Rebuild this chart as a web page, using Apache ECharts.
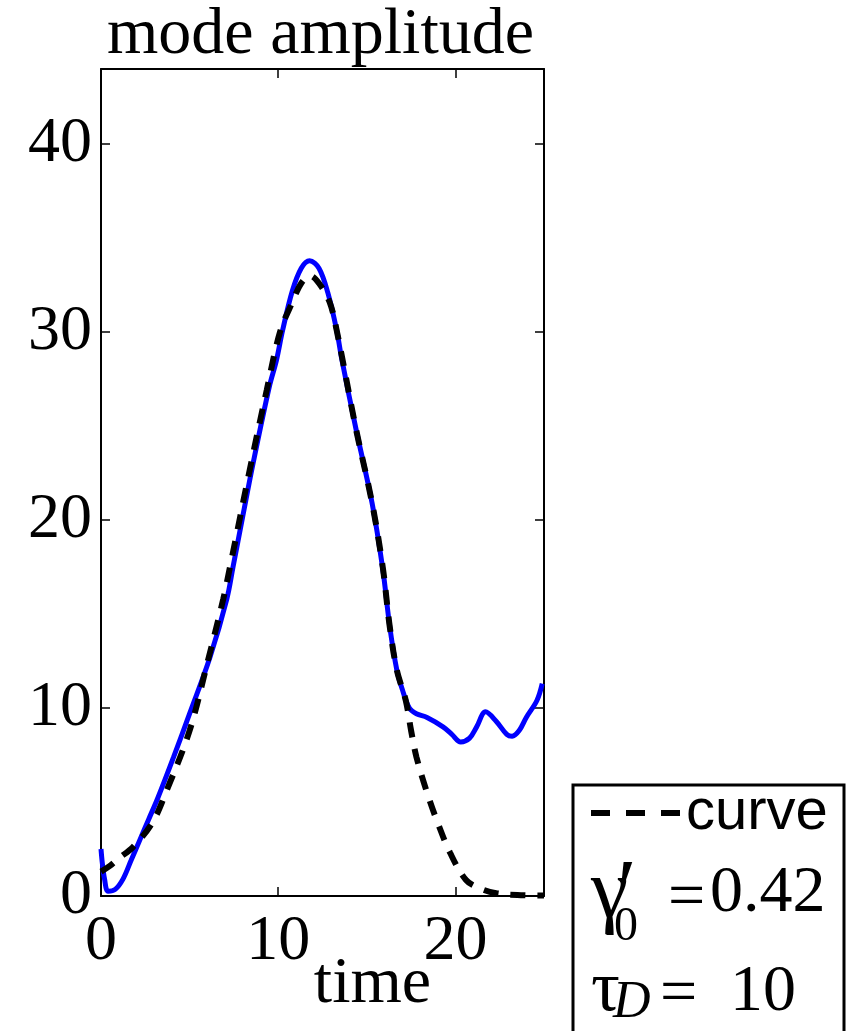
<!DOCTYPE html>
<html>
<head>
<meta charset="utf-8">
<script src="https://cdn.jsdelivr.net/npm/echarts@6/dist/echarts.min.js"></script>
<style>
  html, body { margin: 0; padding: 0; background: #fff; }
  #chart { width: 850px; height: 1031px; }
</style>
</head>
<body>
<div id="chart"></div>
<script>
// Axis ticks
const xTicks = [0, 10, 20];
const yTicks = [0, 10, 20, 30, 40];

// Simulated mode amplitude (solid blue)
const simTime = [0, 0.08, 0.2, 0.4, 0.8, 1.24, 1.7, 2.2, 2.7, 3.2, 4.1, 5, 6.15, 7.1, 7.45, 8.0, 8.6, 9.5, 9.9, 10.25, 10.8, 11.3, 11.77, 12.3, 12.8, 13.3, 13.6, 14.4, 15.3, 15.9, 16.3, 16.7, 17.0, 17.4, 17.8, 18.4, 19.3, 19.8, 20.3, 20.8, 21.2, 21.7, 22.3, 22.9, 23.2, 23.6, 24.0, 24.6, 24.9];
const simAmp  = [2.5, 1.7, 0.9, 0.25, 0.35, 0.9, 1.9, 3.0, 4.1, 5.2, 7.4, 9.7, 12.7, 15.8, 17.5, 20.2, 23.1, 27.1, 28.5, 30.1, 32.2, 33.4, 33.8, 33.4, 32.1, 30.1, 28.5, 24.8, 20.9, 17.4, 14.3, 12.0, 11.0, 10.0, 9.7, 9.5, 9.0, 8.6, 8.2, 8.4, 9.0, 9.8, 9.3, 8.6, 8.5, 8.8, 9.5, 10.4, 11.3];

// Reference curve (dashed black)
const curveTime = [0, 0.5, 1, 1.8, 2.9, 3.7, 5, 6, 6.9, 7.3, 8.4, 9.35, 10.1, 10.8, 11.3, 11.8, 12.3, 12.9, 13.3, 14.4, 15.3, 15.9, 16.3, 16.7, 17.2, 17.5, 17.8, 18.4, 19, 19.7, 20.6, 21.4, 22.3, 23.5, 25];
const curveAmp  = [1.3, 1.6, 2.0, 2.6, 3.9, 5.6, 8.8, 12.4, 15.8, 17.6, 22.7, 26.9, 30.0, 31.6, 32.6, 33.0, 32.6, 31.6, 30.1, 24.8, 20.9, 17.5, 14.3, 12.0, 10.4, 8.8, 7.4, 5.5, 3.9, 2.3, 0.85, 0.4, 0.15, 0.05, 0.02];

// Parameter annotations
const gammaValue = '0.42';
const tauValue = '10';

const SERIF = '"Liberation Serif", "Times New Roman", serif';
const SANS = '"Liberation Sans", Arial, sans-serif';

const pairs = (xs, ys) => xs.map((x, i) => [x, ys[i]]);

const chart = echarts.init(document.getElementById('chart'), null, { renderer: 'canvas' });

const tickStyle = (values) => ({ show: true, inside: true, length: 9, customValues: values, lineStyle: { color: '#000', width: 1.5 } });

const frameAxis = (extra) => Object.assign({
  type: 'value',
  axisLine: { show: true, onZero: false, lineStyle: { color: '#000', width: 2 } },
  splitLine: { show: false },
}, extra);

chart.setOption({
  animation: false,
  backgroundColor: '#fff',
  title: {
    text: 'mode amplitude',
    left: 107,
    top: 3,
    padding: 0,
    textStyle: { fontFamily: SERIF, fontSize: 66, fontWeight: 'normal', color: '#000', lineHeight: 66 }
  },
  grid: { left: 101, right: 306, top: 69, bottom: 135, containLabel: false, outerBoundsMode: 'none' },
  xAxis: [
    frameAxis({
      position: 'bottom', min: 0, max: 25, interval: 10,
      name: 'time', nameLocation: 'middle', nameGap: 56, nameMoveOverlap: false,
      nameTextStyle: { fontFamily: SERIF, fontSize: 66, color: '#000', lineHeight: 66, padding: [0, 0, 0, 100] },
      axisTick: tickStyle(xTicks),
      axisLabel: { customValues: xTicks, margin: 14, fontFamily: SERIF, fontSize: 64, lineHeight: 64, color: '#000' }
    }),
    frameAxis({
      position: 'top', min: 0, max: 25, interval: 10,
      axisTick: tickStyle(xTicks),
      axisLabel: { show: false }
    })
  ],
  yAxis: [
    frameAxis({
      position: 'left', min: 0, max: 44, interval: 10,
      axisTick: tickStyle(yTicks),
      axisLabel: { customValues: yTicks, margin: 9, padding: [10, 0, 0, 0], fontFamily: SERIF, fontSize: 64, lineHeight: 64, color: '#000' }
    }),
    frameAxis({
      position: 'right', min: 0, max: 44, interval: 10,
      axisTick: tickStyle(yTicks),
      axisLabel: { show: false }
    })
  ],
  legend: {
    data: ['curve'],
    left: 588,
    top: 784,
    padding: 0,
    itemWidth: 90,
    itemHeight: 10,
    itemGap: 0,
    itemStyle: { color: 'rgba(0,0,0,0)', borderWidth: 0, opacity: 0 },
    lineStyle: { color: '#000', width: 6, type: [19, 16], cap: 'butt' },
    textStyle: { fontFamily: SANS, fontSize: 58, lineHeight: 58, color: '#000' },
    z: 10
  },
  graphic: [
    { type: 'rect', z: 1, shape: { x: 573, y: 785, width: 271, height: 300 },
      style: { fill: '#fff', stroke: '#000', lineWidth: 3 } },
    { type: 'text', z: 20, style: { text: 'γ', x: 591, y: 895, font: '84px ' + SERIF, fill: '#000', align: 'left', verticalAlign: 'middle' } },
    { type: 'text', z: 20, style: { text: '′', x: 617, y: 898, font: '90px ' + SERIF, fill: '#000', align: 'left', verticalAlign: 'middle' } },
    { type: 'text', z: 20, style: { text: '0', x: 614, y: 927, font: '48px ' + SERIF, fill: '#000', align: 'left', verticalAlign: 'middle' } },
    { type: 'text', z: 20, style: { text: '=', x: 668, y: 900, font: '66px ' + SERIF, fill: '#000', align: 'left', verticalAlign: 'middle' } },
    { type: 'text', z: 20, style: { text: gammaValue, x: 710, y: 894, font: '66px ' + SERIF, fill: '#000', align: 'left', verticalAlign: 'middle' } },
    { type: 'text', z: 20, style: { text: 'τ', x: 591, y: 991, font: '72px ' + SERIF, fill: '#000', align: 'left', verticalAlign: 'middle' } },
    { type: 'text', z: 20, style: { text: 'D', x: 613, y: 1003, font: 'italic 52px ' + SERIF, fill: '#000', align: 'left', verticalAlign: 'middle' } },
    { type: 'text', z: 20, style: { text: '=', x: 660, y: 996, font: '66px ' + SERIF, fill: '#000', align: 'left', verticalAlign: 'middle' } },
    { type: 'text', z: 20, style: { text: tauValue, x: 730, y: 993, font: '66px ' + SERIF, fill: '#000', align: 'left', verticalAlign: 'middle' } }
  ],
  series: [
    {
      name: 'simulation',
      type: 'line',
      data: pairs(simTime, simAmp),
      smooth: 0.35,
      symbol: 'none',
      clip: true,
      lineStyle: { color: '#0000ff', width: 5 },
      z: 3
    },
    {
      name: 'curve',
      type: 'line',
      data: pairs(curveTime, curveAmp),
      smooth: 0.35,
      symbol: 'none',
      clip: true,
      lineStyle: { color: '#000', width: 6, type: [15, 12], cap: 'butt' },
      z: 4
    }
  ]
});
</script>
</body>
</html>
